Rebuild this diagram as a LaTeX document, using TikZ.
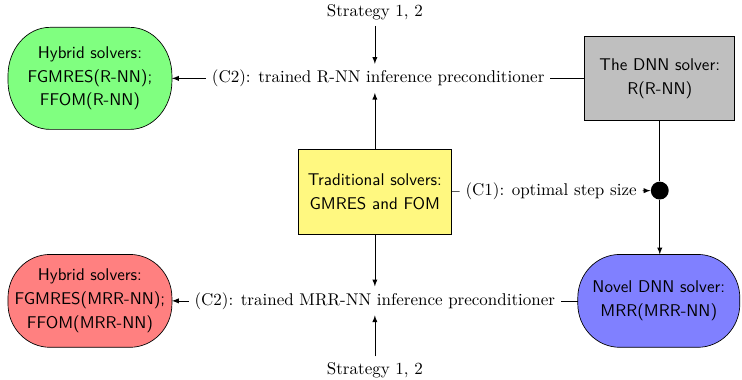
\documentclass[tikz,border=0pt]{standalone}
\usepackage{tikz}
\usetikzlibrary{calc,backgrounds,arrows,positioning}
\newcommand{\solverpill}[4]{%
  \begin{scope}[on background layer]
    \draw[fill=#2] ($(#1.north west)+(#3,0)$) -- ($(#1.north east)+(-#3,0)$)
      arc[start angle=90, end angle=0, x radius=#3, y radius=#4] -- ($(#1.south east)+(0,#4)$)
      arc[start angle=0, end angle=-90, x radius=#3, y radius=#4] -- ($(#1.south west)+(#3,0)$)
      arc[start angle=270, end angle=180, x radius=#3, y radius=#4] -- ($(#1.north west)+(0,-#4)$)
      arc[start angle=180, end angle=90, x radius=#3, y radius=#4] -- cycle;
  \end{scope}}

\begin{document}
\begin{tikzpicture}[>=latex]
  \useasboundingbox (-7.75,-3.87) rectangle (7.59,3.97);
  \tikzstyle{rect_solver}=[draw, rectangle, align=center, font=\sffamily, minimum width=3.1cm, minimum height=1.75cm]
  \tikzstyle{round_solver}=[rectangle, outer sep=0pt, inner xsep=1pt, align=center, font=\sffamily, minimum width=3.39cm, minimum height=1.92cm]
  \def \ytop {2.35}
  \def \ybot {-2.25}
  \node[rect_solver, fill=yellow!50, minimum width=3.16cm] (trad) at (0,0) {Traditional solvers:\\[2pt] GMRES and FOM};
  \node[rect_solver, fill=gray!50] (dnn) at (5.89,\ytop) {The DNN solver:\\[2pt] R(R-NN)};
  \node[round_solver, minimum height=2.11cm] (hybR) at (-5.89,\ytop) {Hybrid solvers:\\[2pt] FGMRES(R-NN);\\[2pt] FFOM(R-NN)};
  \node[round_solver] (hybM) at (-5.89,\ybot) {Hybrid solvers:\\[2pt] FGMRES(MRR-NN);\\[2pt] FFOM(MRR-NN)};
  \node[round_solver, minimum width=3.35cm] (novel) at (5.87,\ybot) {Novel DNN solver:\\[2pt] MRR(MRR-NN)};
  \solverpill{hybR}{green!50}{0.87cm}{1.0cm}
  \solverpill{hybM}{red!50}{0.87cm}{0.9cm}
  \solverpill{novel}{blue!50}{0.87cm}{0.9cm}
  \node[circle, fill=black, inner sep=0pt, minimum size=0.37cm] (dot) at (5.89,0.03) {};
  \node (st1) at (0,3.72) {Strategy 1, 2};
  \node (st2) at (0,-3.68) {Strategy 1, 2};

  \path (hybR) -- node (c2r) {(C2): trained R-NN inference preconditioner} (dnn);
  \path (hybM) -- node (c2m) {(C2): trained MRR-NN inference preconditioner} (novel);
  \path (trad) -- node (c1) {(C1): optimal step size} (dot);

  \draw (dnn) -- (c2r);
  \draw[->] (c2r) -- (hybR);
  \draw (novel) -- (c2m);
  \draw[->] (c2m) -- (hybM);
  \draw (trad) -- (c1);
  \draw[->] (c1) -- (dot);
  \draw (dnn) -- (dot);
  \draw[->] (dot) -- (dot |- novel.north);

  \draw[->] (st1) -- (trad |- c2r.north);
  \draw[->] (trad) -- (trad |- c2r.south);
  \draw[->] (trad) -- (trad |- c2m.north);
  \draw[->] (st2) -- (trad |- c2m.south);
\end{tikzpicture}
\end{document}
